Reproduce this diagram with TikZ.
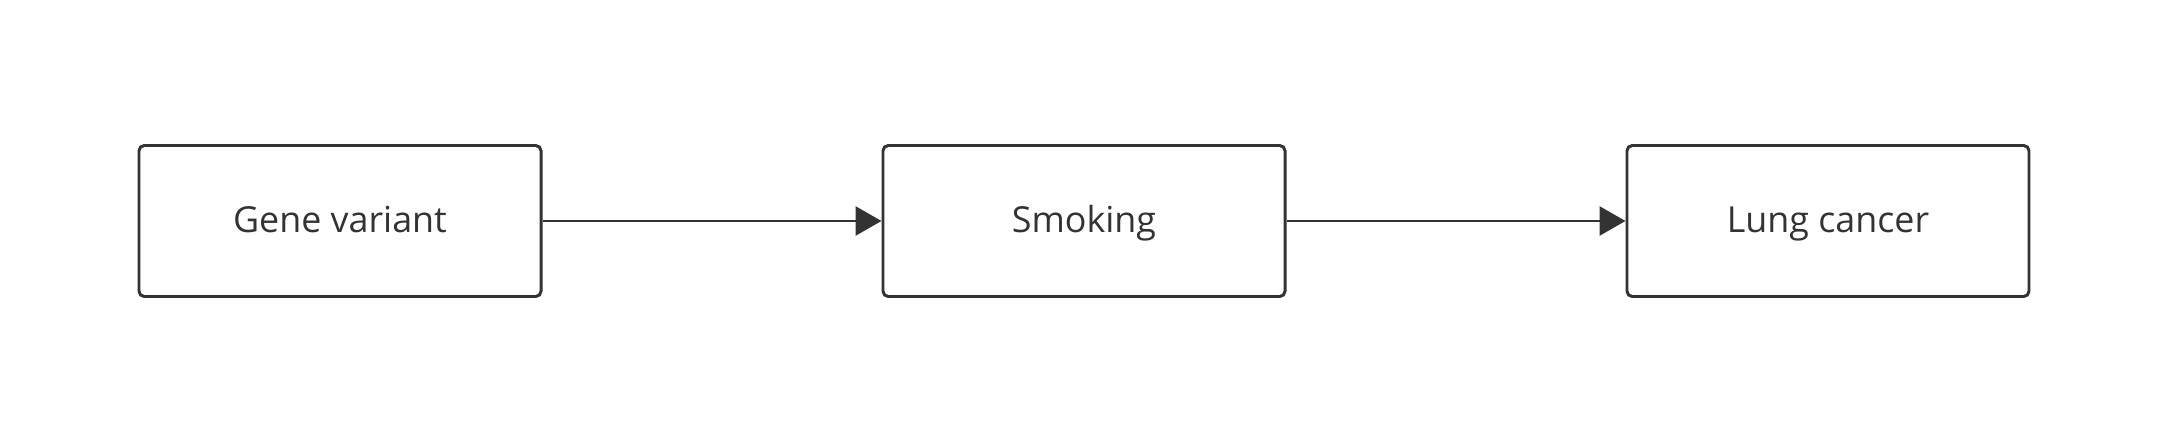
\documentclass[tikz,border=0pt]{standalone}
\usepackage{fontspec}
\setmainfont{Open Sans}
\usepackage{xcolor}
\usetikzlibrary{positioning, arrows.meta}
\definecolor{ink}{HTML}{333333}

\begin{document}
\begin{tikzpicture}[x=1cm,y=1cm,
    box/.style={draw=ink,line width=0.85pt,rounded corners=1.5pt,minimum width=4.02cm,minimum height=1.51cm,inner sep=0pt,text height=0.30cm,text depth=0.066cm,text=ink,font=\fontsize{10.2pt}{12pt}\selectfont},
    link/.style={draw=ink,line width=0.85pt,-{Triangle[length=0.26cm,width=0.29cm]}}]
      \useasboundingbox (0,0) rectangle (21.71,4.36);
      \node[box] (gene) at (3.40,2.15) {Gene variant};
      \node[box,right=3.39cm of gene] (smoke) {Smoking};
      \node[box,right=3.39cm of smoke] (cancer) {Lung cancer};
      \draw[link] (gene) -- (smoke);%遺伝子→喫煙
      \draw[link] (smoke) -- (cancer);%喫煙→肺癌
    \end{tikzpicture}
\end{document}
